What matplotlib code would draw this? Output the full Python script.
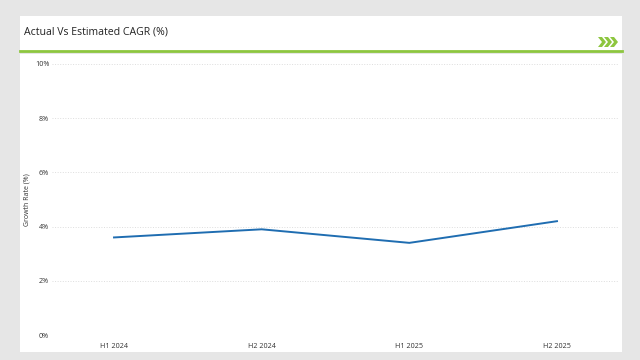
import matplotlib
matplotlib.use("Agg")
import matplotlib.pyplot as plt
from matplotlib.patches import Rectangle, Polygon
from matplotlib.lines import Line2D

# -------------------------------------------------
# Data
# -------------------------------------------------

periods = ["H1 2024", "H2 2024", "H1 2025", "H2 2025"]
growth = [3.6, 3.9, 3.4, 4.2]
y_ticks = [0, 2, 4, 6, 8, 10]

plt.rcParams["font.family"] = ["Open Sans", "DejaVu Sans"]

W, H = 640, 360
fig = plt.figure(figsize=(6.4, 3.6), dpi=100, facecolor="#e6e6e6")


def fx(px):
    return px / W


def fy(py):
    return 1 - py / H


# card panels
fig.patches.append(Rectangle((fx(20), fy(51)), fx(602), 35 / H, transform=fig.transFigure,
                             facecolor="white", edgecolor="none", zorder=-5))
fig.patches.append(Rectangle((fx(20), fy(352)), fx(602), 298 / H, transform=fig.transFigure,
                             facecolor="white", edgecolor="none", zorder=-5))
fig.lines.append(Line2D([fx(20), fx(622)], [fy(51), fy(51)], transform=fig.transFigure,
                        color="#8dc63f", linewidth=2))

# chevrons
for i in range(3):
    x0 = 598 + i * 6
    pts = [(x0, 37), (x0 + 4, 37), (x0 + 8, 42), (x0 + 4, 47), (x0, 47), (x0 + 4, 42)]
    fig.patches.append(Polygon([(fx(a), fy(b)) for a, b in pts], closed=True,
                               transform=fig.transFigure, facecolor="#8dc63f", edgecolor="none"))

fig.text(fx(24), fy(32), "Actual Vs Estimated CAGR (%)", fontsize=7.6, color="#222222",
         va="center", ha="left")

# -------------------------------------------------
# Plot
# -------------------------------------------------

ax = fig.add_axes([fx(52), fy(335), fx(567), (335 - 64) / H], zorder=2)
ax.set_facecolor("none")
x = list(range(len(periods)))
ax.plot(x, growth, color="#1f6db1", linewidth=1.4)

ax.set_xlim(-0.42, len(periods) - 1 + 0.42)
ax.set_ylim(0, 10)
ax.set_xticks(x)
ax.set_xticklabels(periods)
ax.set_yticks(y_ticks)
ax.set_yticklabels([f"{v}%" for v in y_ticks])
ax.tick_params(axis="both", labelsize=5.2, colors="#333333", length=0)
ax.tick_params(axis="x", pad=6)
ax.tick_params(axis="y", pad=2)
ax.grid(axis="y", color="#dddddd", linestyle=":", linewidth=0.7)
ax.set_axisbelow(True)
for s in ax.spines.values():
    s.set_visible(False)

ax.set_ylabel("Growth Rate (%)", fontsize=5, color="#333333", labelpad=3)

fig.savefig("out.png", dpi=100, facecolor=fig.get_facecolor())
